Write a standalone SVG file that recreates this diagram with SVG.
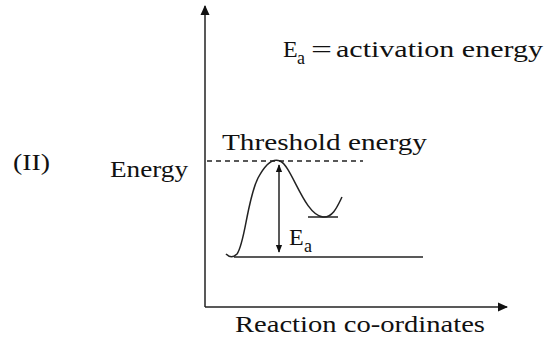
<svg xmlns="http://www.w3.org/2000/svg" width="548" height="343" viewBox="0 0 548 343">
<style>
.t{font-family:'Liberation Serif','Times New Roman',Times,serif;font-size:24px;fill:#111;}
.s{font-family:'Liberation Serif','Times New Roman',Times,serif;font-size:18px;fill:#111;}
.ln{stroke:#222;stroke-width:1.5;fill:none;}
</style>
<defs>
<marker id="ah" viewBox="0 0 10 10" refX="9" refY="5" markerWidth="10" markerHeight="10" markerUnits="userSpaceOnUse" orient="auto-start-reverse">
<path d="M0,0.5 L10,5 L0,9.5 Z" fill="#111"/>
</marker>
<marker id="sh" viewBox="0 0 10 10" refX="9" refY="5" markerWidth="8" markerHeight="8" markerUnits="userSpaceOnUse" orient="auto-start-reverse">
<path d="M0,1 L10,5 L0,9 Z" fill="#111"/>
</marker>
</defs>
<g id="connectors">
<line class="ln" x1="205" y1="307" x2="205" y2="6" marker-end="url(#ah)"/>
<line class="ln" x1="205" y1="307" x2="507" y2="307" marker-end="url(#ah)"/>
<line class="ln" x1="207" y1="161" x2="363" y2="161" stroke-dasharray="5,4" stroke-width="1.2"/>
<line class="ln" x1="234" y1="257" x2="423" y2="257"/>
<line class="ln" x1="308" y1="217" x2="338" y2="217"/>
<path class="ln" d="M226,254 C229,257 233,258 237,254 C245,244 247,200 258,178 C266,163 273,158 280,161 C292,166 304,215 323,217 C333,218 338,205 342,197"/>
<line class="ln" x1="279" y1="165" x2="279" y2="252" marker-start="url(#sh)" marker-end="url(#sh)"/>
</g>
<g id="labels">
<text class="t" x="13" y="170" textLength="37" lengthAdjust="spacingAndGlyphs">(II)</text>
<text class="t" x="110" y="177" textLength="78" lengthAdjust="spacingAndGlyphs">Energy</text>
<text class="t" x="222" y="150" textLength="205" lengthAdjust="spacingAndGlyphs">Threshold energy</text>
<text class="t" x="235" y="332" textLength="250" lengthAdjust="spacingAndGlyphs">Reaction co-ordinates</text>
<text class="t" x="283" y="57">E</text>
<text class="s" x="297" y="64">a</text>
<text class="t" x="311" y="57" textLength="21" lengthAdjust="spacingAndGlyphs">=</text>
<text class="t" x="336" y="57" textLength="207" lengthAdjust="spacingAndGlyphs">activation energy</text>
<text class="t" x="289" y="245">E</text>
<text class="s" x="304" y="252">a</text>
</g>
</svg>
